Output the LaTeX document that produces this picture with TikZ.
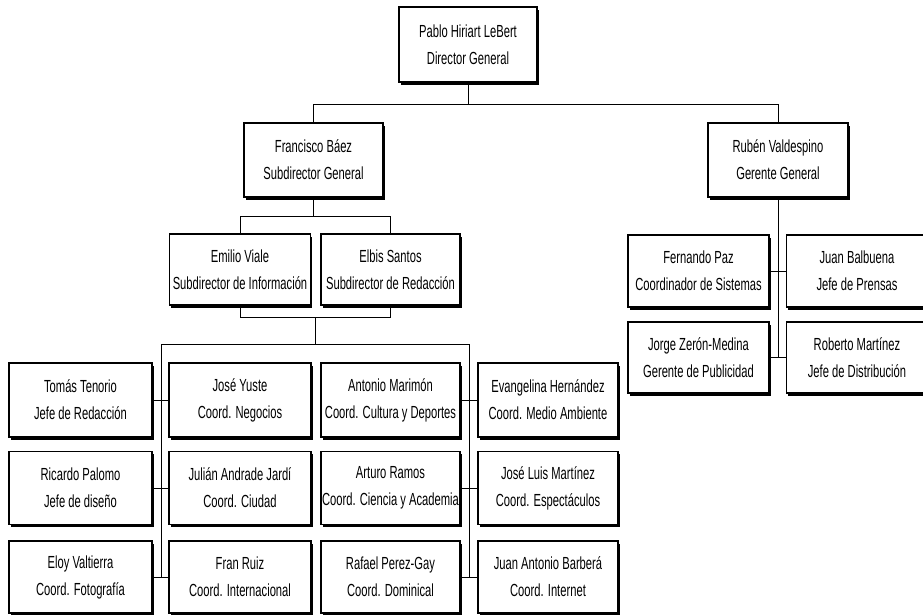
\documentclass[tikz,border=0pt]{standalone}
\usepackage{fontspec}
\setmainfont{Liberation Sans}[FakeStretch=0.64]
\usetikzlibrary{shadows}
\begin{document}
\begin{tikzpicture}[x=1pt,y=-1pt,
  box/.style={draw=black, line width=1.4pt, fill=white, align=center,
    minimum width=141pt, minimum height=73pt, inner sep=0pt,
    font=\fontsize{17.5}{27}\selectfont,
    drop shadow={shadow xshift=1.5pt, shadow yshift=-2.5pt, fill=black, opacity=1}},
  link/.style={draw=black, line width=1pt}]
\useasboundingbox (0,0) rectangle (923,614);
% top levels
\node[box, minimum width=138pt, minimum height=75pt] (top) at (468,44.5) {Pablo Hiriart LeBert\\Director General};
\node[box, minimum width=139pt, minimum height=74pt] (fran) at (313.5,160) {Francisco Báez\\Subdirector General};
\node[box, minimum width=140pt, minimum height=74pt] (ruben) at (778,160) {Rubén Valdespino\\Gerente General};
\node[box, minimum height=71pt] (emilio) at (240,269.5) {Emilio Viale\\Subdirector de Información};
\node[box, minimum width=139pt, minimum height=71pt] (elbis) at (390.5,269.5) {Elbis Santos\\Subdirector de Redacción};
% right branch
\node[box, minimum height=72pt] (fernando) at (698.5,271) {Fernando Paz\\Coordinador de Sistemas};
\node[box, minimum height=72pt] (juanb) at (857,271) {Juan Balbuena\\Jefe de Prensas};
\node[box, minimum height=71pt] (jorge) at (698.5,357.5) {Jorge Zerón-Medina\\Gerente de Publicidad};
\node[box, minimum height=71pt] (roberto) at (857,357.5) {Roberto Martínez\\Jefe de Distribución};
% grid
\node[box, minimum width=143pt, minimum height=74pt] (tomas) at (80.5,400) {Tomás Tenorio\\Jefe de Redacción};
\node[box, minimum width=142pt, minimum height=74pt] (yuste) at (240,400) {José Yuste\\Coord. Negocios};
\node[box, minimum width=139pt, minimum height=74pt] (marimon) at (390.5,400) {Antonio Marimón\\Coord. Cultura y Deportes};
\node[box, minimum width=140pt, minimum height=74pt] (evangelina) at (548,400) {Evangelina Hernández\\Coord. Medio Ambiente};
\node[box, minimum width=143pt] (palomo) at (80.5,488) {Ricardo Palomo\\Jefe de diseño};
\node[box, minimum width=142pt] (andrade) at (240,488) {Julián Andrade Jardí\\Coord. Ciudad};
\node[box, minimum width=139pt] (ramos) at (390.5,488) {Arturo Ramos\\Coord. Ciencia y Academia};
\node[box, minimum width=140pt] (jlmartinez) at (548,488) {José Luis Martínez\\Coord. Espectáculos};
\node[box, minimum width=143pt, minimum height=72pt] (eloy) at (80.5,577) {Eloy Valtierra\\Coord. Fotografía};
\node[box, minimum width=142pt, minimum height=72pt] (ruiz) at (240,577) {Fran Ruiz\\Coord. Internacional};
\node[box, minimum width=139pt, minimum height=72pt] (perez) at (390.5,577) {Rafael Perez-Gay\\Coord. Dominical};
\node[box, minimum width=140pt, minimum height=72pt] (barbera) at (548,577) {Juan Antonio Barberá\\Coord. Internet};
% connectors
\coordinate (j1) at (468,104);
\draw[link] (top.south) -- (j1);
\draw[link] (j1) -| (fran.north);
\draw[link] (j1) -| (ruben.north);
\coordinate (j2) at (313.5,216);
\draw[link] (fran.south) -- (j2);
\draw[link] (j2) -| (emilio.north);
\draw[link] (j2) -| (elbis.north);
\coordinate (j3) at (315,317);
\draw[link] (emilio.south) |- (j3);
\draw[link] (elbis.south) |- (j3);
\coordinate (j4) at (315,344);
\coordinate (lbus) at (161,344);
\coordinate (rbus) at (469,344);
\coordinate (lend) at (161,577);
\coordinate (rend) at (469,577);
\draw[link] (j3) -- (j4);
\draw[link] (lbus) -- (rbus);
\draw[link] (lbus) -- (lend);
\draw[link] (rbus) -- (rend);
\draw[link] (tomas.east) -- (yuste.west);
\draw[link] (palomo.east) -- (andrade.west);
\draw[link] (eloy.east) -- (ruiz.west);
\draw[link] (marimon.east) -- (evangelina.west);
\draw[link] (ramos.east) -- (jlmartinez.west);
\draw[link] (perez.east) -- (barbera.west);
\coordinate (rend2) at (778,357.5);
\draw[link] (ruben.south) -- (rend2);
\draw[link] (fernando.east) -- (juanb.west);
\draw[link] (jorge.east) -- (roberto.west);
\end{tikzpicture}
\end{document}
